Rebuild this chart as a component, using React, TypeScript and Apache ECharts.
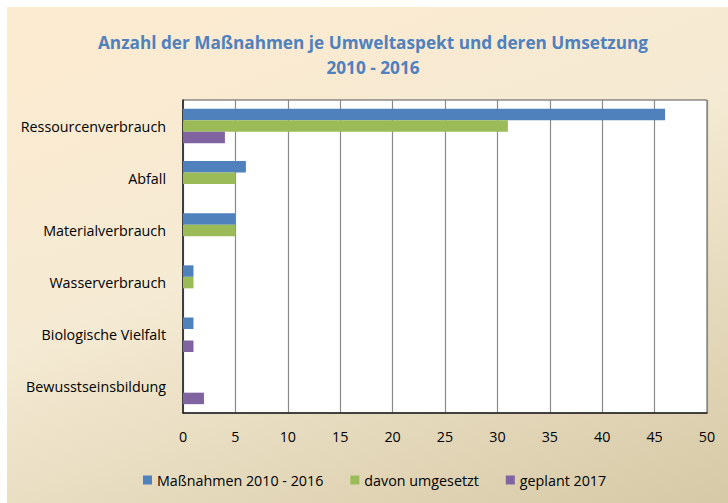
import React, { useEffect, useRef } from "react";
import * as echarts from "echarts";

const categories = [
  "Ressourcenverbrauch",
  "Abfall",
  "Materialverbrauch",
  "Wasserverbrauch",
  "Biologische Vielfalt",
  "Bewusstseinsbildung",
];
const massnahmen = [46, 6, 5, 1, 1, 0];
const umgesetzt = [31, 5, 5, 1, 0, 0];
const geplant = [4, 0, 0, 0, 1, 2];
const seriesNames = ["Maßnahmen 2010 - 2016", "davon umgesetzt", "geplant 2017"];
const colors = ["#4F81BD", "#9BBB59", "#8064A2"];

const FONT = "'Open Sans', Lato, sans-serif";

export default function App() {
  const ref = useRef<HTMLDivElement>(null);
  useEffect(() => {
    if (!ref.current) return;
    const chart = echarts.init(ref.current, null, { renderer: "svg" });
    const data = [massnahmen, umgesetzt, geplant];
    chart.setOption({
      animation: false,
      textStyle: { fontFamily: FONT },
      title: {
        text: "Anzahl der Maßnahmen je Umweltaspekt und deren Umsetzung\n2010 - 2016",
        left: 361,
        top: 18,
        textAlign: "center",
        textStyle: {
          color: "#4F81BD",
          fontSize: 17.2,
          fontWeight: "bold",
          fontFamily: FONT,
          lineHeight: 25,
        },
      },
      legend: {
        data: seriesNames,
        left: 131,
        top: 461,
        itemWidth: 9,
        itemHeight: 9,
        itemGap: 27,
        icon: "rect",
        textStyle: { fontSize: 14.3, color: "#000", fontFamily: FONT },
      },
      grid: {
        left: 176,
        right: 21,
        top: 93,
        bottom: 90,
        show: true,
        backgroundColor: "#fff",
        borderColor: "#555",
        borderWidth: 1,
      },
      xAxis: {
        type: "value",
        min: 0,
        max: 50,
        interval: 5,
        axisLine: { show: true, lineStyle: { color: "#222", width: 1.5 } },
        axisTick: { show: false },
        splitLine: { show: true, lineStyle: { color: "#8a8a8a", width: 1.2 } },
        axisLabel: { fontSize: 14.3, color: "#000", margin: 16, fontFamily: FONT },
      },
      yAxis: {
        type: "category",
        data: categories,
        inverse: true,
        axisLine: { show: true, lineStyle: { color: "#222", width: 1.5 } },
        axisTick: { show: false },
        axisLabel: { fontSize: 14.3, color: "#000", margin: 17, fontFamily: FONT },
      },
      series: data.map((d, i) => ({
        name: seriesNames[i],
        type: "bar",
        data: d,
        barWidth: 11.5,
        barGap: "0%",
        itemStyle: { color: colors[i] },
      })),
    });
    return () => chart.dispose();
  }, []);
  return (
    <div
      ref={ref}
      style={{
        position: "absolute",
        left: 7,
        top: 7,
        width: 721,
        height: 496,
        background: "linear-gradient(160deg, #FDEBD0 0%, #F5EAD3 45%, #D6C9A6 100%)",
      }}
    />
  );
}
